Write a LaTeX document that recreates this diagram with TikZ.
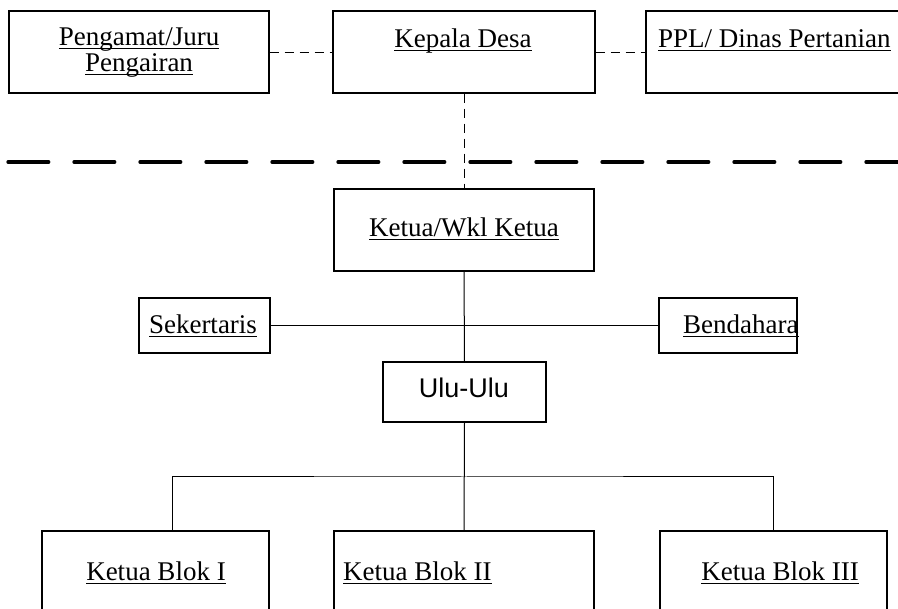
\documentclass[tikz,border=0pt]{standalone}
\usepackage{fontspec}
\setmainfont{Liberation Serif}
\newfontfamily\arialf{Liberation Sans}
\newcommand\myul[1]{\setbox0\hbox{#1}\rlap{\rule[-3.2pt]{\wd0}{1.1pt}}\box0}
\tikzset{
  orgbox/.style={draw, line width=1.1pt, inner sep=0pt, rectangle},
  lbl/.style={inner sep=0pt, font=\fontsize{27}{29}\selectfont},
  lblc/.style={lbl, anchor=base},
  lblw/.style={lbl, anchor=base west},
  conn/.style={line width=1pt},
  thindash/.style={line width=0.9pt, dash pattern=on 9pt off 6pt},
  bigdash/.style={line width=3.3pt, line cap=round, dash pattern=on 40.7pt off 25.3pt}
}
\begin{document}
\begin{tikzpicture}[x=1pt,y=-1pt]
\useasboundingbox (0,0) rectangle (898,609);
\clip (0,0) rectangle (898,609);
% boxes
\node[orgbox, minimum width=260, minimum height=82] (peng) at (139,52) {};
\node[orgbox, minimum width=262, minimum height=82] (kepala) at (464,52) {};
\node[orgbox, minimum width=264, minimum height=82] (ppl) at (778,52) {};
\node[orgbox, minimum width=260, minimum height=82] (ketua) at (464,230) {};
\node[orgbox, minimum width=131, minimum height=55] (sek) at (204.5,325.5) {};
\node[orgbox, minimum width=138, minimum height=55] (ben) at (728,325.5) {};
\node[orgbox, minimum width=163, minimum height=60] (ulu) at (464.5,392) {};
\node[orgbox, minimum width=227, minimum height=89] (b1) at (155.5,575.5) {};
\node[orgbox, minimum width=260, minimum height=89] (b2) at (464,575.5) {};
\node[orgbox, minimum width=227, minimum height=89] (b3) at (773.5,575.5) {};
% labels
\node[lblc] (tpeng1) at (139,46) {\myul{Pengamat/Juru}};
\node[lblc] (tpeng2) at (139,72) {\myul{Pengairan}};
\node[lblc] (tkep) at (463,48) {\myul{Kepala Desa}};
\node[lblw] (tppl) at (658,48) {\myul{PPL/ Dinas Pertanian}};
\node[lblc] (tket) at (464,237) {\myul{Ketua/Wkl Ketua}};
\node[lblc] (tsek) at (203,334) {\myul{Sekertaris}};
\node[lblw] (tben) at (683,334) {\myul{Bendahara}};
\node[lblc, font=\fontsize{27}{29}\arialf] (tulu) at (464,398) {Ulu-Ulu};
\node[lblc] (tb1) at (156,581) {\myul{Ketua Blok I}};
\node[lblw] (tb2) at (343,581) {\myul{Ketua Blok II}};
\node[lblc] (tb3) at (780,581) {\myul{Ketua Blok III}};
% big dashed separator
\coordinate (dl) at (8,162);
\coordinate (dr) at (930,162);
\draw[bigdash] (dl) -- (dr);
% connectors
\draw[thindash] (peng.east) -- (kepala.west);
\draw[thindash] (kepala.east) -- (ppl.west);
\draw[thindash] (kepala.south) -- (ketua.north);
\draw[conn] (ketua.south) -- (ulu.north);
\draw[conn] (sek.east) -- (ben.west);
\coordinate (bus) at (464,477);
\draw[conn] (ulu.south) -- (b2.north);
\draw[conn] ([xshift=16.5pt]b1.north) |- (bus) -| ([xshift=-0.5pt]b3.north);
\end{tikzpicture}
\end{document}
